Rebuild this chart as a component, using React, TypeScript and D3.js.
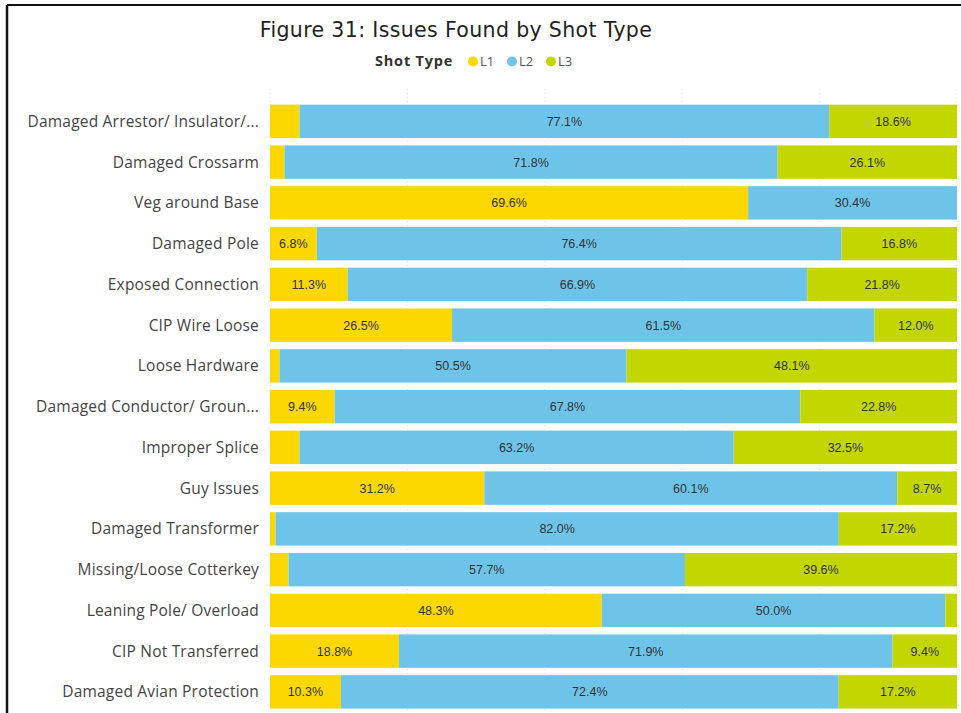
import React from 'react';
import * as d3 from 'd3';

// categories top to bottom
const categories = [
  'Damaged Arrestor/ Insulator/...',
  'Damaged Crossarm',
  'Veg around Base',
  'Damaged Pole',
  'Exposed Connection',
  'CIP Wire Loose',
  'Loose Hardware',
  'Damaged Conductor/ Groun...',
  'Improper Splice',
  'Guy Issues',
  'Damaged Transformer',
  'Missing/Loose Cotterkey',
  'Leaning Pole/ Overload',
  'CIP Not Transferred',
  'Damaged Avian Protection',
];

const l1 = [4.3, 2.1, 69.6, 6.8, 11.3, 26.5, 1.4, 9.4, 4.3, 31.2, 0.8, 2.7, 48.3, 18.8, 10.3];
const l2 = [77.1, 71.8, 30.4, 76.4, 66.9, 61.5, 50.5, 67.8, 63.2, 60.1, 82.0, 57.7, 50.0, 71.9, 72.4];
const l3 = [18.6, 26.1, 0, 16.8, 21.8, 12.0, 48.1, 22.8, 32.5, 8.7, 17.2, 39.6, 1.7, 9.4, 17.2];

const seriesNames = ['L1', 'L2', 'L3'];
const seriesColors = ['#FCD800', '#6EC4E8', '#C4D600'];
const ticks = [0, 20, 40, 60, 80, 100];

const W = 961;
const H = 713;
const margin = { top: 101, right: 4, bottom: 0, left: 270 };

export default function App() {
  const table = categories.map((name, i) => ({ name, L1: l1[i], L2: l2[i], L3: l3[i] }));
  const stack = d3.stack<any>().keys(seriesNames).offset(d3.stackOffsetExpand);
  const layers = stack(table);

  const x = d3.scaleLinear().domain([0, 1]).range([margin.left, W - margin.right]);
  const y = d3
    .scaleBand()
    .domain(categories)
    .range([margin.top, margin.top + 40.75 * categories.length])
    .paddingInner(0.18)
    .paddingOuter(0.09);

  return (
    <svg
      width={W}
      height={H}
      style={{ position: 'absolute', left: 0, top: 0, background: '#fff' }}
      fontFamily="'Open Sans', sans-serif"
    >
      <rect x={0} y={0} width={W} height={H} fill="#fff" />
      {/* frame */}
      <line x1={7} y1={5} x2={W} y2={5} stroke="#111" strokeWidth={2} />
      <line x1={7} y1={5} x2={7} y2={H} stroke="#111" strokeWidth={2.5} />

      <text x={456} y={37} textAnchor="middle" fontSize={20.5} letterSpacing={0.35} fill="#222" fontFamily="'DejaVu Sans', sans-serif">
        Figure 31: Issues Found by Shot Type
      </text>

      {/* legend */}
      <g fontSize={13}>
        <text x={375} y={66} fontWeight="bold" fill="#333" fontSize={14.5} letterSpacing={0.8}>Shot Type</text>
        {seriesNames.map((s, i) => {
          const lx = 473 + i * 39;
          return (
            <g key={s}>
              <circle cx={lx} cy={61.5} r={5} fill={seriesColors[i]} />
              <text x={lx + 7} y={66} fill="#555">{s}</text>
            </g>
          );
        })}
      </g>

      {/* gridlines */}
      {ticks.map((t) => (
        <line
          key={t}
          x1={x(t / 100)}
          x2={x(t / 100)}
          y1={margin.top - 12}
          y2={H}
          stroke="#e2e2e2"
          strokeDasharray="1,3"
        />
      ))}

      {/* bars */}
      {layers.map((layer, li) => (
        <g key={layer.key} fill={seriesColors[li]}>
          {layer.map((d, i) => {
            const w = x(d[1]) - x(d[0]);
            if (w <= 0) return null;
            return (
              <rect
                key={i}
                x={x(d[0])}
                y={y(categories[i])}
                width={w}
                height={y.bandwidth()}
              />
            );
          })}
        </g>
      ))}

      {/* data labels */}
      <g fontSize={12.5} fontFamily="'Liberation Sans', Arial, sans-serif" fill="#333" textAnchor="middle">
        {layers.map((layer, li) =>
          layer.map((d, i) => {
            const raw = [l1, l2, l3][li][i];
            const w = x(d[1]) - x(d[0]);
            if (w < 38) return null;
            return (
              <text
                key={layer.key + i}
                x={(x(d[0]) + x(d[1])) / 2}
                y={(y(categories[i]) as number) + y.bandwidth() / 2 + 4.5}
              >
                {raw.toFixed(1)}%
              </text>
            );
          })
        )}
      </g>

      {/* category axis */}
      <g fontSize={15.5} fill="#444" textAnchor="end" letterSpacing={0.2}>
        {categories.map((c) => (
          <text key={c} x={259} y={(y(c) as number) + y.bandwidth() / 2 + 5.5}>
            {c}
          </text>
        ))}
      </g>
    </svg>
  );
}
